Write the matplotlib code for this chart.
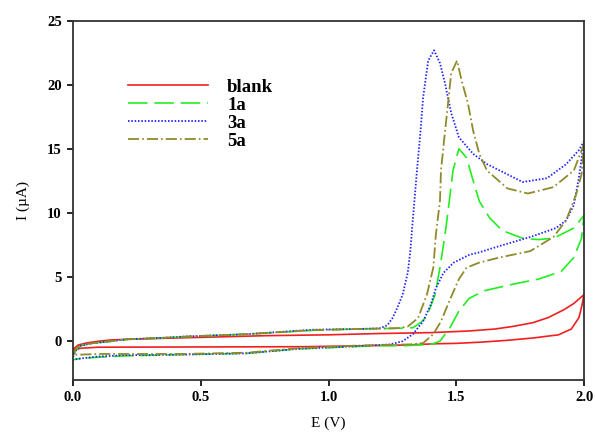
import matplotlib
matplotlib.use("Agg")
import matplotlib.pyplot as plt

plt.rcParams['font.family'] = ['Liberation Serif', 'DejaVu Serif']
plt.rcParams['lines.scale_dashes'] = False

# blank (red) - forward then reverse scan
E_blank = [0.0, 0.02, 0.05, 0.1, 0.15, 0.25, 0.4, 0.6, 0.75, 1.0, 1.2, 1.4, 1.55, 1.65, 1.72, 1.8, 1.86, 1.92, 1.96, 2.0,
           1.99, 1.98, 1.95, 1.9, 1.8, 1.7, 1.6, 1.5, 1.42, 1.3, 1.1, 0.9, 0.5, 0.1, 0.03, 0.0]
I_blank = [-0.7, -0.35, -0.2, -0.05, 0.05, 0.12, 0.2, 0.3, 0.38, 0.45, 0.55, 0.62, 0.75, 0.9, 1.1, 1.4, 1.8, 2.4, 2.9, 3.6,
           2.6, 1.8, 0.9, 0.45, 0.2, 0.02, -0.12, -0.22, -0.25, -0.35, -0.42, -0.48, -0.5, -0.52, -0.6, -0.75]

# 1a (green)
E_1a = [0.0, 0.01, 0.03, 0.08, 0.15, 0.21, 0.34, 0.45, 0.68, 0.94, 1.1, 1.25, 1.33, 1.36, 1.385, 1.417, 1.436, 1.456,
        1.47, 1.487, 1.51, 1.54, 1.566, 1.59, 1.63, 1.68, 1.76, 1.82, 1.88, 1.96, 2.0,
        1.99, 1.96, 1.91, 1.82, 1.72, 1.61, 1.55, 1.51, 1.475, 1.436, 1.40, 1.3, 1.2, 1.07, 0.88, 0.68, 0.42, 0.2,
        0.1, 0.03, 0.0]
I_1a = [-1.2, -0.8, -0.4, -0.2, -0.05, 0.1, 0.2, 0.3, 0.5, 0.8, 0.9, 0.95, 1.0, 1.4, 1.9, 3.6, 5.7, 8.3,
        10.5, 13.3, 15.0, 14.3, 12.5, 10.9, 9.6, 8.6, 8.0, 7.9, 8.0, 8.8, 9.8,
        8.0, 6.5, 5.4, 4.8, 4.4, 3.9, 3.3, 2.3, 1.0, -0.05, -0.3, -0.4, -0.4, -0.5, -0.65, -1.0, -1.1, -1.2,
        -1.3, -1.4, -1.5]

# 3a (blue)
E_3a = [0.0, 0.01, 0.03, 0.08, 0.15, 0.21, 0.34, 0.45, 0.68, 0.94, 1.1, 1.2, 1.23, 1.25, 1.27, 1.29, 1.31, 1.32, 1.33,
        1.346, 1.36, 1.37, 1.39, 1.413, 1.436, 1.456, 1.48, 1.51, 1.566, 1.62, 1.67, 1.76, 1.855, 1.93, 1.98, 2.0,
        1.98, 1.96, 1.93, 1.89, 1.79, 1.67, 1.59, 1.55, 1.49, 1.45, 1.42, 1.40, 1.37, 1.33, 1.29, 1.24, 1.1, 0.88,
        0.68, 0.42, 0.2, 0.1, 0.03, 0.0]
I_3a = [-1.3, -0.8, -0.4, -0.2, -0.05, 0.1, 0.2, 0.33, 0.5, 0.85, 0.9, 0.95, 1.2, 1.75, 2.6, 3.6, 5.3, 7.0, 9.5,
        13.3, 16.4, 19.0, 21.9, 22.7, 21.7, 20.1, 17.8, 15.9, 14.6, 13.8, 13.3, 12.4, 12.7, 13.8, 14.9, 15.6,
        12.8, 10.6, 9.4, 8.8, 8.1, 7.4, 6.9, 6.7, 6.1, 5.3, 4.1, 2.8, 1.5, 0.5, -0.05, -0.3, -0.45, -0.65,
        -1.0, -1.1, -1.15, -1.25, -1.4, -1.5]

# 5a (olive)
E_5a = [0.0, 0.01, 0.03, 0.08, 0.15, 0.21, 0.34, 0.45, 0.68, 0.94, 1.1, 1.27, 1.31, 1.35, 1.385, 1.41, 1.42, 1.436,
        1.44, 1.456, 1.47, 1.48, 1.503, 1.52, 1.546, 1.566, 1.59, 1.62, 1.70, 1.78, 1.88, 1.96, 2.0,
        1.99, 1.97, 1.93, 1.88, 1.79, 1.67, 1.59, 1.54, 1.51, 1.475, 1.44, 1.41, 1.37, 1.32, 1.1, 0.88, 0.68,
        0.42, 0.2, 0.1, 0.03, 0.0]
I_5a = [-1.1, -0.7, -0.35, -0.2, -0.05, 0.1, 0.2, 0.32, 0.5, 0.82, 0.9, 0.97, 1.1, 1.75, 3.6, 5.7, 8.3, 10.9,
        13.3, 16.4, 19.0, 20.9, 21.9, 20.4, 18.5, 16.4, 14.6, 13.3, 11.9, 11.5, 12.0, 13.3, 15.4,
        13.0, 11.5, 9.4, 8.1, 7.0, 6.5, 6.1, 5.7, 4.8, 3.2, 1.5, 0.5, -0.2, -0.3, -0.4, -0.6, -0.95,
        -1.05, -1.05, -1.05, -1.1, -1.1]

labels = ['blank', '1a', '3a', '5a']

fig = plt.figure(figsize=(5.96, 4.36), dpi=100)
ax = fig.add_axes([0.1225, 0.128, 0.8575, 0.824])

ax.plot(E_blank, I_blank, color='#f02020', lw=1.2, label=labels[0])
ax.plot(E_1a, I_1a, color='#22ee22', lw=1.2, dashes=(14, 5), label=labels[1])
ax.plot(E_3a, I_3a, color='#2222ff', lw=1.3, dashes=(1.1, 1.3), label=labels[2])
ax.plot(E_5a, I_5a, color='#8f8a2c', lw=1.3, dashes=(8, 2.2, 1.2, 2.2), label=labels[3])

ax.set_xlim(0, 2.0)
ax.set_ylim(-3.1, 25)
ax.set_xticks([0.0, 0.5, 1.0, 1.5, 2.0])
ax.set_xticklabels(['0.0', '0.5', '1.0', '1.5', '2.0'])
ax.set_yticks([0, 5, 10, 15, 20, 25])
ax.tick_params(direction='out', length=4, width=1.2, labelsize=10.5, pad=4)
for t in ax.get_xticklabels() + ax.get_yticklabels():
    t.set_fontweight('bold')
for s in ax.spines.values():
    s.set_linewidth(1.3)
    s.set_color('#333333')

ax.set_xlabel('E (V)', fontsize=11, labelpad=9)
ax.set_ylabel('I (\u00b5A)', fontsize=11, labelpad=12)

ax.legend(loc='upper left', bbox_to_anchor=(0.107, 0.84), frameon=False,
          prop={'size': 13.5, 'weight': 'bold'},
          handlelength=4.3, handletextpad=1.0, labelspacing=0.05, borderpad=0, borderaxespad=0)

fig.savefig('out.png', dpi=100)
